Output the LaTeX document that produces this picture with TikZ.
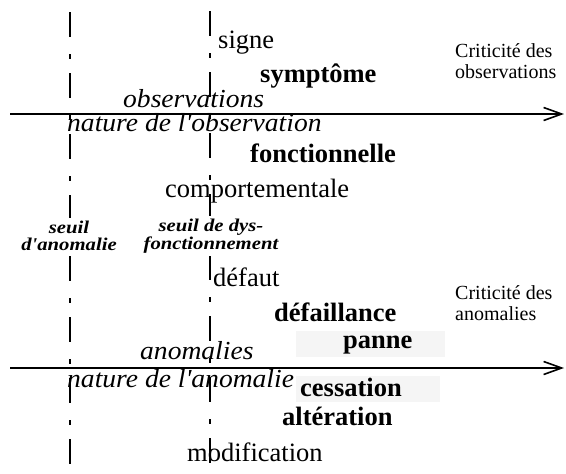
\documentclass[tikz,border=0pt]{standalone}
\usepackage{fontspec}
\setmainfont{Liberation Serif}
\newfontfamily\rmw{Liberation Serif}
\newfontfamily\itw[FakeStretch=1.06]{Liberation Serif}
\newfontfamily\crw{Liberation Serif}
\newfontfamily\slw[FakeStretch=1.15]{Liberation Serif}
\usetikzlibrary{arrows.meta}
\tikzset{
  txt/.style={inner sep=0pt, anchor=base west, font=\rmw\fontsize{26.5}{29}\selectfont},
  btxt/.style={inner sep=0pt, anchor=base west, font=\rmw\bfseries\fontsize{26.5}{29}\selectfont},
  itxt/.style={inner sep=0pt, anchor=base west, font=\itw\itshape\fontsize{26}{29}\selectfont},
  crit/.style={inner sep=0pt, anchor=base west, align=left, font=\crw\fontsize{20}{21}\selectfont},
  seuillbl/.style={inner sep=3pt, fill=white, align=center, font=\slw\bfseries\itshape\fontsize{18}{17.5}\selectfont},
  vline/.style={line width=1.3pt, dash pattern=on 25pt off 17pt on 5pt off 14pt},
  axis/.style={line width=1.8pt, -{Straight Barb[length=18pt,width=13pt,line width=1.6pt]}},
  noise/.style={fill=black!4, draw=none},
}
\begin{document}
\begin{tikzpicture}[x=1pt,y=-1pt]
\useasboundingbox (0,0) rectangle (566,474);
% vertical threshold lines
\coordinate (L1) at (70,12);
\coordinate (L2) at (70,474);
\coordinate (R1) at (210,9);
\coordinate (R2) at (210,474);
\draw[vline] (L1) -- (L2);
\draw[vline, dash phase=-2pt] (R1) -- (R2);
% faint scan background
\fill[noise] (296,331) rectangle (445,357);
\fill[noise] (296,376) rectangle (440,402);
% axes
\coordinate (A1) at (10,114);
\coordinate (A2) at (564,114);
\coordinate (B1) at (10,368);
\coordinate (B2) at (564,368);
\draw[axis] (A1) -- (A2);
\draw[axis] (B1) -- (B2);
% threshold labels
\node[seuillbl] (sa) at (69,236) {seuil\\d'anomalie};
\node[seuillbl] (sd) at (211,236) {seuil de dys-\\fonctionnement};
% observations
\node[txt]  (signe) at (218,48) {signe};
\node[btxt] (sympt) at (260,82) {symptôme};
\node[itxt] (obs)   at (123,107) {observations};
\node[itxt] (natobs) at (67,131) {nature de l'observation};
\node[crit] (critobs) at (455,78) {Criticité des\\observations};
\node[btxt] (fonc) at (250,162) {fonctionnelle};
\node[txt]  (comp) at (165,197) {comportementale};
% anomalies
\node[txt]  (defaut) at (213,286) {défaut};
\node[btxt] (defaill) at (274,321) {défaillance};
\node[crit] (critano) at (455,320) {Criticité des\\anomalies};
\node[btxt] (panne) at (343,348) {panne};
\node[itxt] (ano) at (140,359) {anomalies};
\node[itxt] (natano) at (67,387) {nature de l'anomalie};
\node[btxt] (cess) at (300,396) {cessation};
\node[btxt] (alter) at (282,425) {altération};
\node[txt]  (modif) at (187,461) {modification};
\end{tikzpicture}
\end{document}
